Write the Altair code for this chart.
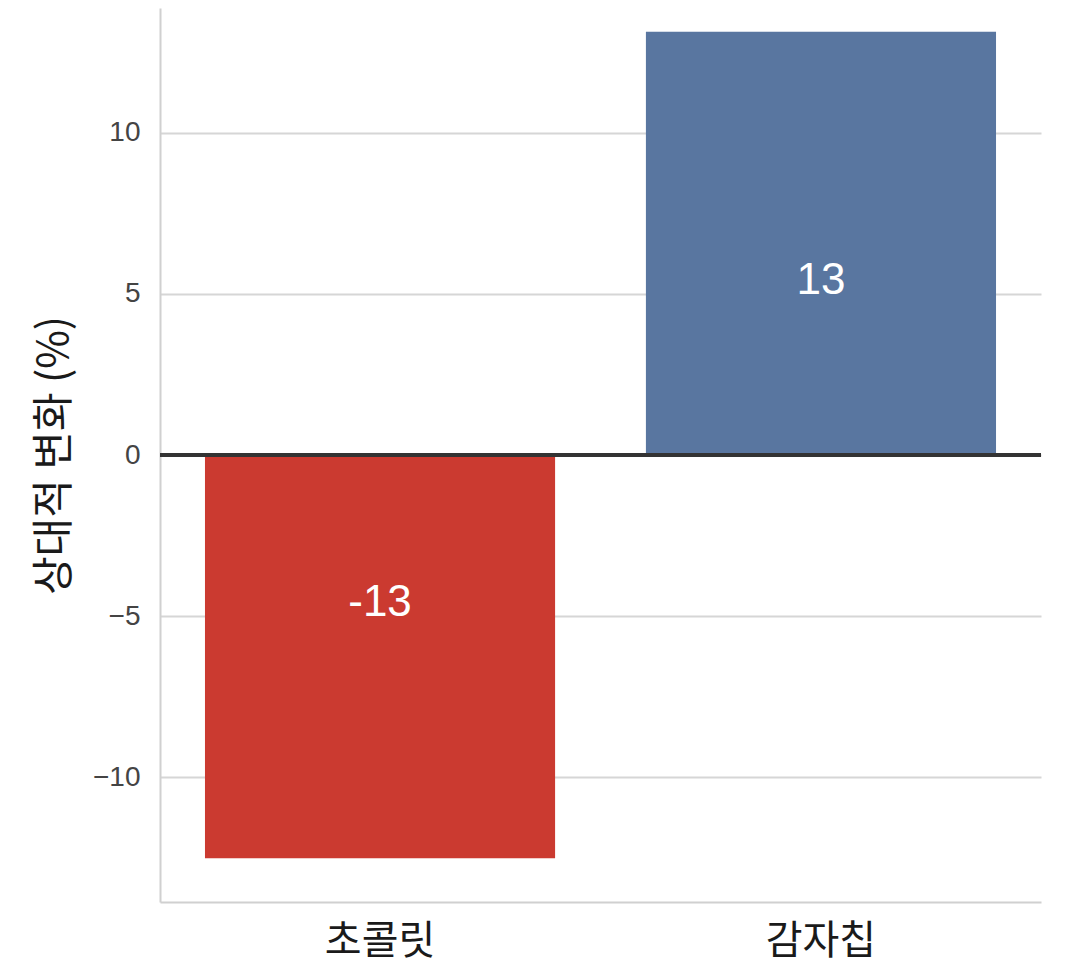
import altair as alt
import pandas as pd

categories = ["초콜릿", "감자칩"]
values = [-12.52, 13.14]
bar_colors = ["#CB3A30", "#5976A0"]

df = pd.DataFrame({"category": categories, "value": values, "color": bar_colors})

FONT = "Liberation Sans, 'Noto Sans CJK KR', sans-serif"
KFONT = "'Noto Sans CJK KR', sans-serif"

x_enc = alt.X(
    "category:N",
    sort=categories,
    scale=alt.Scale(paddingInner=0.206, paddingOuter=0.102),
    axis=alt.Axis(
        title=None,
        labelAngle=0,
        labelFont=KFONT,
        labelFontSize=40,
        labelColor="#1a1a1a",
        labelPadding=19,
        ticks=False,
        domainColor="#d0d0d0",
        domainWidth=2,
        grid=False,
    ),
)

y_enc = alt.Y(
    "value:Q",
    scale=alt.Scale(domain=[-13.88, 13.88], nice=False, zero=False),
    axis=alt.Axis(
        title="상대적 변화 (%)",
        titleFont=KFONT,
        titleFontSize=42,
        titleFontWeight="normal",
        titleColor="#1a1a1a",
        titlePadding=16,
        values=[-10, -5, 0, 5, 10],
        labelFont=FONT,
        labelFontSize=28,
        labelColor="#444444",
        labelPadding=20,
        ticks=False,
        domainColor="#d0d0d0",
        domainWidth=2,
        grid=True,
        gridColor="#d6d6d6",
        gridWidth=2,
    ),
)

bars = alt.Chart(df).mark_bar().encode(
    x=x_enc,
    y=y_enc,
    color=alt.Color("color:N", scale=None, legend=None),
)

zero_rule = alt.Chart(pd.DataFrame({"z": [0]})).mark_rule(
    color="#333333", strokeWidth=4
).encode(y=alt.Y("z:Q"))

labels = alt.Chart(df).transform_calculate(
    label="toString(round(datum.value))",
    ypos="datum.value * 0.39",
).mark_text(
    color="white", font=FONT, fontSize=44, baseline="middle", align="center", dy=-9
).encode(
    x=alt.X("category:N", sort=categories),
    y=alt.Y("ypos:Q"),
    text="label:N",
)

chart = alt.layer(bars, zero_rule, labels).properties(
    width=881,
    height=894,
    background="white",
    autosize=alt.AutoSizeParams(type="none"),
    padding={"left": 152, "top": 0, "right": 39, "bottom": 74},
).configure_view(stroke=None)

chart.save("out.html", embed_options={"renderer": "svg", "actions": False})
